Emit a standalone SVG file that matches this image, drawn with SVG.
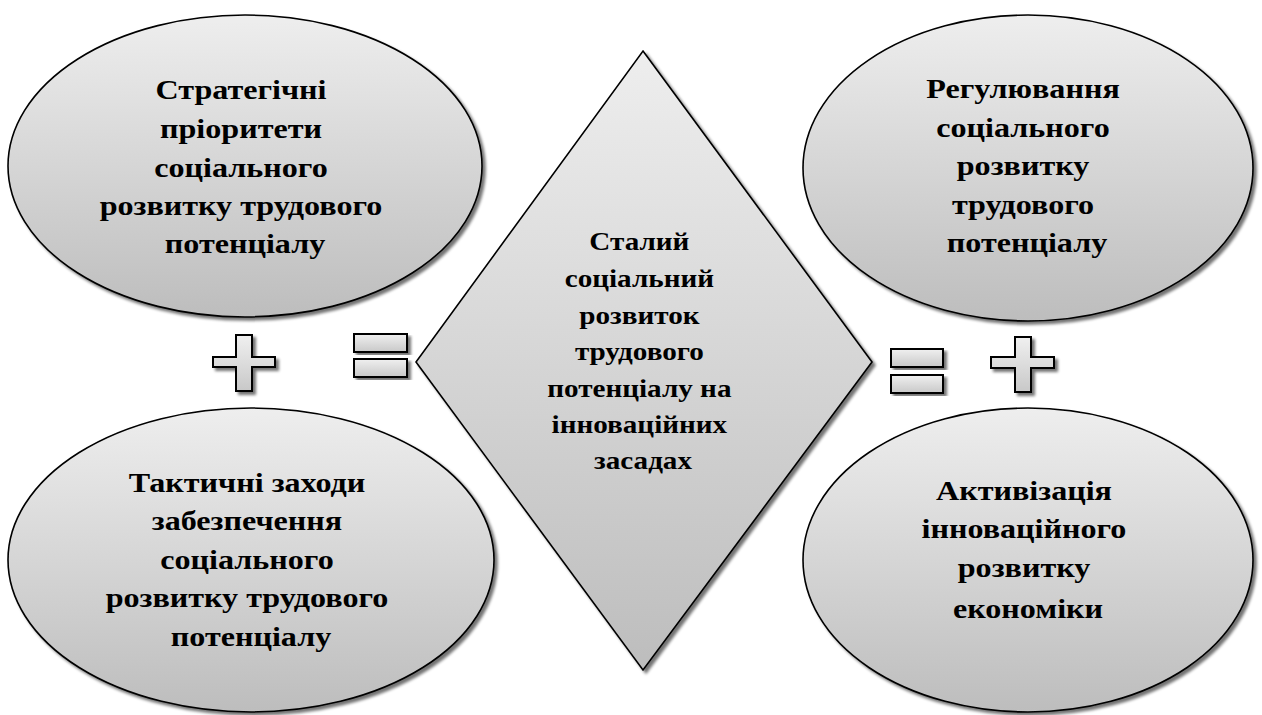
<svg xmlns="http://www.w3.org/2000/svg" width="1262" height="715" viewBox="0 0 1262 715">
  <defs>
    <linearGradient id="gFill" x1="0" y1="0" x2="0" y2="1">
      <stop offset="0" stop-color="#eeeeee"/>
      <stop offset="1" stop-color="#bdbdbd"/>
    </linearGradient>
    <linearGradient id="gSign" x1="0" y1="0" x2="0" y2="1">
      <stop offset="0" stop-color="#f0f0f0"/>
      <stop offset="1" stop-color="#c8c8c8"/>
    </linearGradient>
    <filter id="shadow" x="-10%" y="-10%" width="125%" height="125%">
      <feGaussianBlur in="SourceAlpha" stdDeviation="1.6"/>
      <feOffset dx="3" dy="3" result="blur"/>
      <feComponentTransfer><feFuncA type="linear" slope="0.55"/></feComponentTransfer>
      <feMerge><feMergeNode/><feMergeNode in="SourceGraphic"/></feMerge>
    </filter>
    <style>
      .shape { fill: url(#gFill); stroke: #000; stroke-width: 1.6; filter: url(#shadow); }
      .sign { fill: url(#gSign); stroke: #000; stroke-width: 2; filter: url(#shadow); }
      .lbl { font-family: "Liberation Serif", "Times New Roman", serif; font-weight: bold; font-size: 27px; fill: #000; text-anchor: middle; }
      .lbl-c { font-size: 24.5px; }
    </style>
  </defs>

  <rect width="1262" height="715" fill="#ffffff"/>

  <!-- central diamond; labels are widened horizontally by 1.19 -->
  <g id="node-center">
    <polygon class="shape" points="643,51 872,362 643,670 416,362"/>
    <text class="lbl lbl-c" transform="matrix(1.19 0 0 1 643 0)">
      <tspan x="0" y="250">Сталий</tspan>
      <tspan x="0" y="287">соціальний</tspan>
      <tspan x="0" y="324">розвиток</tspan>
      <tspan x="0" y="360">трудового</tspan>
      <tspan x="0" y="397">потенціалу на</tspan>
      <tspan x="0" y="433">інноваційних</tspan>
      <tspan x="0" y="469">засадах</tspan>
    </text>
  </g>

  <!-- top-left ellipse -->
  <g id="node-strategic">
    <ellipse class="shape" cx="245" cy="166" rx="237" ry="151"/>
    <text class="lbl" transform="matrix(1.19 0 0 1 245 0)">
      <tspan x="0" y="99">Стратегічні</tspan>
      <tspan x="0" y="138">пріоритети</tspan>
      <tspan x="0" y="177">соціального</tspan>
      <tspan x="0" y="215">розвитку трудового</tspan>
      <tspan x="0" y="253">потенціалу</tspan>
    </text>
  </g>

  <!-- bottom-left ellipse -->
  <g id="node-tactical">
    <ellipse class="shape" cx="251" cy="560" rx="243" ry="152"/>
    <text class="lbl" transform="matrix(1.19 0 0 1 251 0)">
      <tspan x="0" y="492">Тактичні заходи</tspan>
      <tspan x="0" y="530">забезпечення</tspan>
      <tspan x="0" y="569">соціального</tspan>
      <tspan x="0" y="607">розвитку трудового</tspan>
      <tspan x="0" y="646">потенціалу</tspan>
    </text>
  </g>

  <!-- top-right ellipse -->
  <g id="node-regulation">
    <ellipse class="shape" cx="1028" cy="168" rx="225" ry="153"/>
    <text class="lbl" transform="matrix(1.19 0 0 1 1027 0)">
      <tspan x="0" y="98">Регулювання</tspan>
      <tspan x="0" y="137">соціального</tspan>
      <tspan x="0" y="175">розвитку</tspan>
      <tspan x="0" y="214">трудового</tspan>
      <tspan x="0" y="252">потенціалу</tspan>
    </text>
  </g>

  <!-- bottom-right ellipse -->
  <g id="node-activation">
    <ellipse class="shape" cx="1028" cy="560" rx="225" ry="152"/>
    <text class="lbl" transform="matrix(1.19 0 0 1 1028 0)">
      <tspan x="0" y="500">Активізація</tspan>
      <tspan x="0" y="538">інноваційного</tspan>
      <tspan x="0" y="577">розвитку</tspan>
      <tspan x="0" y="618">економіки</tspan>
    </text>
  </g>

  <!-- operator signs between the nodes -->
  <g id="connectors">
    <!-- left plus -->
    <path class="sign" d="M236,335 H252 V357 H275 V367 H252 V391 H236 V367 H213 V357 H236 Z"/>
    <!-- left equals -->
    <rect class="sign" x="354" y="334" width="53" height="18"/>
    <rect class="sign" x="354" y="359" width="53" height="18"/>
    <!-- right equals -->
    <rect class="sign" x="891" y="349" width="52" height="18"/>
    <rect class="sign" x="891" y="375" width="52" height="18"/>
    <!-- right plus -->
    <path class="sign" d="M1015,337 H1031 V357 H1054 V368 H1031 V392 H1015 V368 H991 V357 H1015 Z"/>
  </g>
</svg>
